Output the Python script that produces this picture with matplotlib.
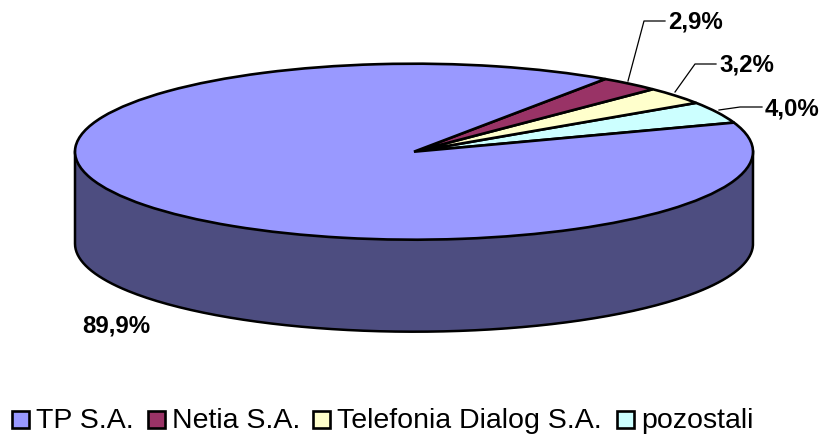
import matplotlib
matplotlib.use("Agg")

import matplotlib.pyplot as plt
import numpy as np
from matplotlib.patches import Rectangle

plt.rcParams["font.family"] = ["Liberation Sans", "DejaVu Sans"]

categories = ["TP S.A.", "Netia S.A.", "Telefonia Dialog S.A.", "pozostali"]
values = [89.9, 2.9, 3.2, 4.0]
value_labels = ["89,9%", "2,9%", "3,2%", "4,0%"]
colors = ["#9999FF", "#993366", "#FFFFCC", "#CCFFFF"]
side_color = "#4D4D80"

W, H = 820, 435
CX, CY, RX, RY, DEPTH = 414, 152.7, 339, 88, 92

fig = plt.figure(figsize=(W / 100, H / 100), dpi=100)

# background axes in pixel coords: side wall
ax = fig.add_axes([0, 0, 1, 1])
ax.set_xlim(0, W)
ax.set_ylim(H, 0)
ax.axis("off")

t = np.linspace(0, np.pi, 200)
xs = CX + RX * np.cos(t)
ys = CY + RY * np.sin(t)
ax.fill_between(xs, ys, ys + DEPTH, color=side_color, lw=0)
outline_x = np.r_[CX + RX, xs, CX - RX]
outline_y = np.r_[CY, ys + DEPTH, CY]
ax.plot(outline_x, outline_y, color="black", lw=1.8, solid_joinstyle="round")

# top of the pie, drawn with a real pie squashed into the ellipse box
top = fig.add_axes([(CX - RX) / W, 1 - (CY + RY) / H, 2 * RX / W, 2 * RY / H])
top.pie(values[::-1], colors=colors[::-1], startangle=19.3, radius=1,
        wedgeprops={"edgecolor": "black", "linewidth": 1.9})
top.set_xlim(-1, 1)
top.set_ylim(-1, 1)
top.set_aspect("auto")
for w in top.patches:
    w.set_clip_on(False)

# leader lines, labels and legend go on top
ax2 = fig.add_axes([0, 0, 1, 1])
ax2.set_xlim(0, W)
ax2.set_ylim(H, 0)
ax2.axis("off")
ax2.plot([628, 644, 665], [82, 22, 22], color="black", lw=0.9)
ax2.plot([675, 695, 716], [93, 65, 65], color="black", lw=0.9)
ax2.plot([719, 740, 762], [111, 108, 108], color="black", lw=0.9)

label_pos = [(82, 326), (668, 22), (719, 65), (765, 109)]
for lab, (x, y) in zip(value_labels, label_pos):
    ax2.text(x, y, lab, fontsize=17.3, fontweight="bold", ha="left", va="center")

box_x = [12, 148, 313, 617]
for name, c, x in zip(categories, colors, box_x):
    ax2.add_patch(Rectangle((x, 412), 17, 17, facecolor=c, edgecolor="black", lw=1.9))
    ax2.text(x + 24, 421, name, fontsize=20.5, ha="left", va="center")

fig.savefig("out.png", dpi=100)
plt.close(fig)
